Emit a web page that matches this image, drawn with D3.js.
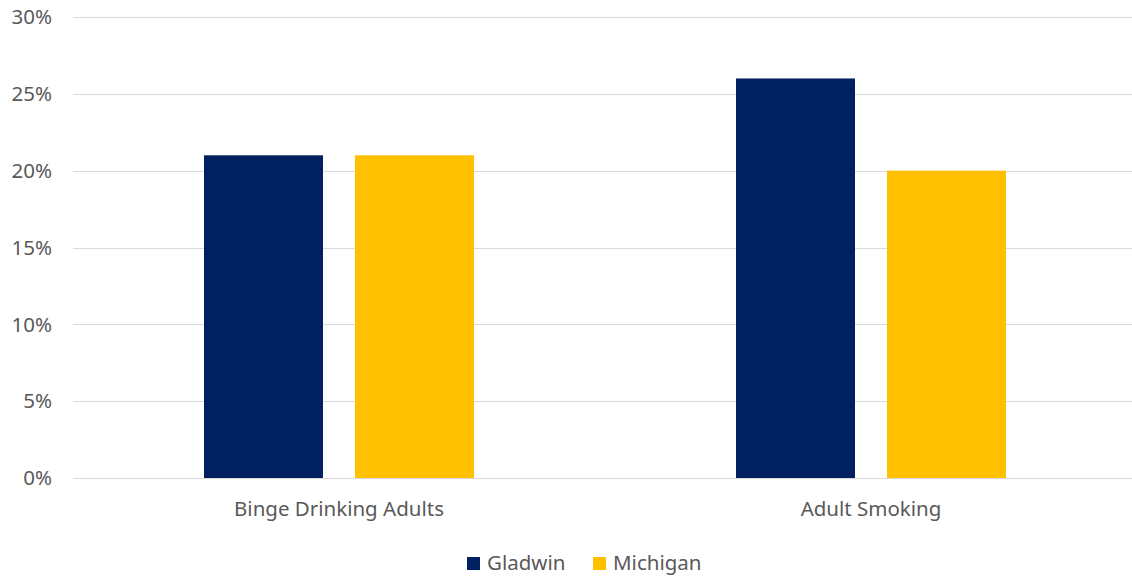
<!DOCTYPE html>
<html>
<head>
<meta charset="utf-8" />
<title>Gladwin vs Michigan</title>
<script src="https://d3js.org/d3.v7.min.js"></script>
<style>
  body { margin: 0; background: #fff; }
  text { font-family: "Noto Sans", "Open Sans", sans-serif; fill: #595959; }
</style>
</head>
<body>
<div id="chart"></div>
<script>
const categories = ["Binge Drinking Adults", "Adult Smoking"];
const seriesNames = ["Gladwin", "Michigan"];
const gladwin = [0.21, 0.26];
const michigan = [0.21, 0.20];
const yTicks = [0, 0.05, 0.10, 0.15, 0.20, 0.25, 0.30];
const colors = ["#002060", "#FFC000"];

const W = 1132, H = 579;
const plotLeft = 73, plotRight = 1137, plotTop = 17, plotBottom = 478;

const svg = d3.select("#chart").append("svg")
    .attr("width", W)
    .attr("height", H);

const x = d3.scaleBand().domain(categories).range([plotLeft, plotRight]);
// bars 119 wide with a 32px gap, group centred in each band
const x1 = d3.scaleBand().domain(seriesNames).range([131, x.bandwidth() - 131]).paddingInner(32 / 151);
const y = d3.scaleLinear().domain([0, 0.30]).range([plotBottom, plotTop]);

// gridlines
svg.append("g")
  .selectAll("line")
  .data(yTicks)
  .join("line")
    .attr("x1", plotLeft).attr("x2", W)
    .attr("y1", d => Math.round(y(d)) + 0.5)
    .attr("y2", d => Math.round(y(d)) + 0.5)
    .attr("stroke", "#d9d9d9")
    .attr("stroke-width", 1);

// y labels
svg.append("g")
  .selectAll("text")
  .data(yTicks)
  .join("text")
    .attr("x", 52)
    .attr("y", d => y(d))
    .attr("dy", "0.35em")
    .attr("text-anchor", "end")
    .style("font-size", "20.5px")
    .text(d => d3.format(".0%")(d));

const rows = categories.map((c, i) => ({ cat: c, values: [gladwin[i], michigan[i]] }));

svg.append("g")
  .selectAll("g")
  .data(rows)
  .join("g")
    .attr("transform", d => `translate(${x(d.cat)},0)`)
  .selectAll("rect")
  .data(d => d.values.map((v, j) => ({ name: seriesNames[j], v, j })))
  .join("rect")
    .attr("x", d => x1(d.name))
    .attr("width", x1.bandwidth())
    .attr("y", d => y(d.v))
    .attr("height", d => y(0) - y(d.v))
    .attr("fill", d => colors[d.j]);

// category labels
svg.append("g")
  .selectAll("text")
  .data(categories)
  .join("text")
    .attr("x", d => x(d) + x.bandwidth() / 2)
    .attr("y", 509)
    .attr("dy", "0.35em")
    .attr("text-anchor", "middle")
    .style("font-size", "20.5px")
    .text(d => d);

// legend
const legendX = [467, 593];
const legend = svg.append("g")
  .selectAll("g")
  .data(seriesNames)
  .join("g")
    .attr("transform", (d, i) => `translate(${legendX[i]},557)`);
legend.append("rect")
    .attr("width", 13).attr("height", 13)
    .attr("fill", (d, i) => colors[i]);
legend.append("text")
    .attr("x", 20)
    .attr("y", 6)
    .attr("dy", "0.35em")
    .style("font-size", "20.5px")
    .text(d => d);
</script>
</body>
</html>
